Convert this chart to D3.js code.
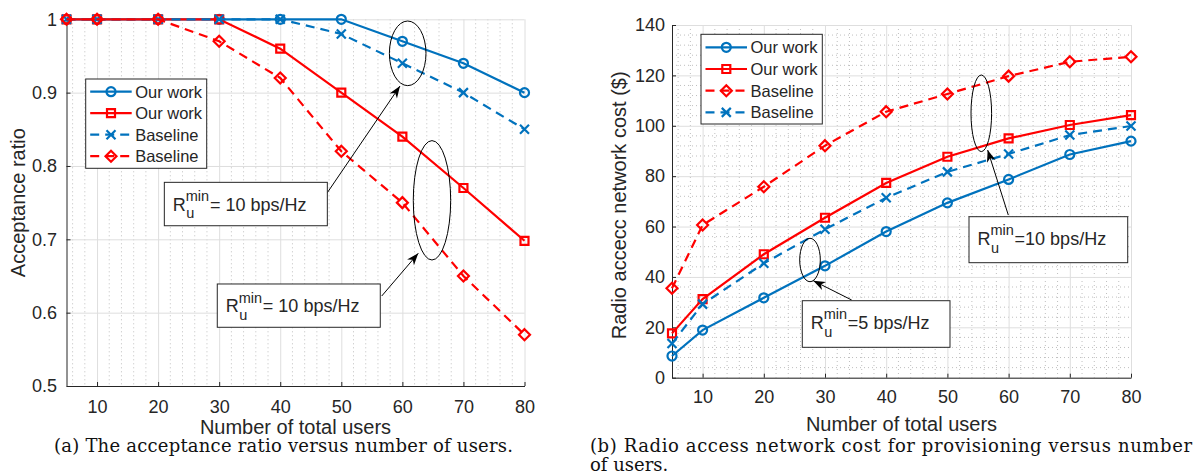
<!DOCTYPE html>
<html>
<head>
<meta charset="utf-8">
<script src="https://cdn.jsdelivr.net/npm/d3@7"></script>
<style>
  body { margin: 0; background: #fff; }
  svg { display: block; }
  text { font-family: "Liberation Sans", Arial, sans-serif; fill: #262626; }
  .cap { font-family: "DejaVu Serif", "Liberation Serif", serif; fill: #111; }
</style>
</head>
<body>
<svg id="fig" width="1202" height="475"></svg>
<script>
// ---- data ----
const users = [5, 10, 20, 30, 40, 50, 60, 70, 80];
const xTicks = [10, 20, 30, 40, 50, 60, 70, 80];

// (a) acceptance ratio
const accOursBlue = [1, 1, 1, 1, 1, 1, 0.97, 0.94, 0.90];
const accOursRed  = [1, 1, 1, 1, 0.96, 0.90, 0.84, 0.77, 0.698];
const accBaseBlue = [1, 1, 1, 1, 1, 0.98, 0.94, 0.90, 0.85];
const accBaseRed  = [1, 1, 1, 0.97, 0.92, 0.82, 0.75, 0.65, 0.57];
const accTicks = [0.5, 0.6, 0.7, 0.8, 0.9, 1];

// (b) radio access network cost
const costOursBlue = [8.6, 18.9, 31.7, 44.4, 58, 69.4, 78.7, 88.6, 93.9];
const costOursRed  = [17.6, 31.2, 49, 63.5, 77.3, 87.7, 95, 100.3, 104.2];
const costBaseRed  = [35.5, 60.6, 75.8, 92.1, 105.6, 112.6, 119.7, 125.4, 127.4];
const costBaseBlue = [13.6, 29.2, 45.4, 58.9, 71.4, 81.7, 88.8, 96.3, 99.9];
const costTicks = [0, 20, 40, 60, 80, 100, 120, 140];

const BLUE = "#0072BD", RED = "#FF0000";

const svg = d3.select("#fig");

svg.append("defs").append("marker")
    .attr("id", "ah")
    .attr("markerUnits", "userSpaceOnUse")
    .attr("viewBox", "-13 -5 14 10")
    .attr("markerWidth", 14).attr("markerHeight", 10)
    .attr("refX", 0).attr("refY", 0)
    .attr("orient", "auto")
  .append("path")
    .attr("d", "M0,0L-12,-4.5L-8.5,0L-12,4.5Z")
    .attr("fill", "#000");

function markerPath(type) {
  if (type === "circle") return d3.symbol(d3.symbolCircle, 64)();
  if (type === "square") return "M-4,-4h8v8h-8Z";
  if (type === "diamond") return "M0,-5.5L5.5,0L0,5.5L-5.5,0Z";
  return "M-4.5,-4.5L4.5,4.5M-4.5,4.5L4.5,-4.5";
}

function rLabel(g, x, y, rest) {
  let r = g.append("text").attr("x", x).attr("y", y).style("font-size", "18px").text("R");
  let w = r.node().getComputedTextLength();
  let sup = g.append("text").attr("x", x + w).attr("y", y - 9.7).style("font-size", "14.5px").text("min");
  g.append("text").attr("x", x + w + 0.5).attr("y", y + 7.6).style("font-size", "14.5px").text("u");
  let mw = sup.node().getComputedTextLength();
  g.append("text").attr("x", x + w + mw + 0.8).attr("y", y).style("font-size", "18px").text(rest);
}

function panel(cfg) {
  const x = d3.scaleLinear().domain([5, 80]).range([cfg.left, cfg.right]);
  const y = d3.scaleLinear().domain(cfg.yDomain).range([cfg.bottom, cfg.top]);
  const g = svg.append("g");
  const h = cfg.bottom - cfg.top, w = cfg.right - cfg.left;

  // minor grid
  g.append("g").selectAll("line")
    .data(d3.range(6, 80, 2).filter(v => v % 10 !== 0))
    .join("line")
      .attr("x1", d => x(d)).attr("x2", d => x(d))
      .attr("y1", cfg.top).attr("y2", cfg.bottom)
      .attr("stroke", "#bfbfbf").attr("stroke-width", 1)
      .attr("stroke-dasharray", "1,3");
  if (cfg.yMinor) {
    g.append("g").selectAll("line")
      .data(cfg.yMinor)
      .join("line")
        .attr("x1", cfg.left).attr("x2", cfg.right)
        .attr("y1", d => y(d)).attr("y2", d => y(d))
        .attr("stroke", "#bfbfbf").attr("stroke-width", 1)
        .attr("stroke-dasharray", "1,3");
  }
  // major grid
  g.append("g").attr("transform", `translate(0,${cfg.bottom})`)
    .call(d3.axisBottom(x).tickValues(xTicks).tickSize(-h).tickFormat(""))
    .call(a => a.select(".domain").remove())
    .call(a => a.selectAll("line").attr("stroke", "#dedede"));
  g.append("g").attr("transform", `translate(${cfg.left},0)`)
    .call(d3.axisLeft(y).tickValues(cfg.yTicks).tickSize(-w).tickFormat(""))
    .call(a => a.select(".domain").remove())
    .call(a => a.selectAll("line").attr("stroke", "#dedede"));

  // axes
  const xa = g.append("g").attr("transform", `translate(0,${cfg.bottom})`)
    .call(d3.axisBottom(x).tickValues(xTicks).tickSizeInner(-4).tickSizeOuter(0).tickPadding(cfg.xPad));
  const ya = g.append("g").attr("transform", `translate(${cfg.left},0)`)
    .call(d3.axisLeft(y).tickValues(cfg.yTicks).tickSizeInner(-4).tickSizeOuter(0)
      .tickPadding(cfg.yPad).tickFormat(d3.format("~g")));
  [xa, ya].forEach(a => {
    a.select(".domain").attr("stroke", "#262626");
    a.selectAll(".tick line").attr("stroke", "#262626");
    a.selectAll("text").style("font-size", "18px").attr("fill", "#262626")
      .style("font-family", '"Liberation Sans", Arial, sans-serif');
  });

  // titles
  g.append("text").attr("x", (cfg.left + cfg.right) / 2).attr("y", cfg.xTitleY)
    .attr("text-anchor", "middle").style("font-size", "20px").text("Number of total users");
  g.append("text")
    .attr("transform", `translate(${cfg.yTitleX},${(cfg.top + cfg.bottom) / 2 + cfg.yTitleShift}) rotate(-90)`)
    .attr("text-anchor", "middle").style("font-size", "20px").text(cfg.yTitle);

  // series
  const line = d3.line().x((d, i) => x(users[i])).y(d => y(d));
  cfg.series.forEach(s => {
    g.append("path").attr("d", line(s.values))
      .attr("fill", "none").attr("stroke", s.color).attr("stroke-width", 2.2)
      .attr("stroke-dasharray", s.dash ? "9,6" : null);
    g.append("g").selectAll("path")
      .data(s.values)
      .join("path")
        .attr("transform", (d, i) => `translate(${x(users[i])},${y(d)})`)
        .attr("d", markerPath(s.marker))
        .attr("fill", "none").attr("stroke", s.color).attr("stroke-width", 2.2);
  });

  // legend
  const L = cfg.legend;
  const lg = g.append("g");
  lg.append("rect").attr("x", L.x).attr("y", L.y).attr("width", L.w).attr("height", L.h)
    .attr("fill", "#fff").attr("stroke", "#262626").attr("stroke-width", 1);
  cfg.series.forEach((s, i) => {
    const cy = L.y + L.first + i * L.step;
    lg.append("line").attr("x1", L.x + 4.5).attr("x2", L.x + 46).attr("y1", cy).attr("y2", cy)
      .attr("stroke", s.color).attr("stroke-width", 2.2)
      .attr("stroke-dasharray", s.dash ? "9,6" : null);
    lg.append("path").attr("transform", `translate(${L.x + 25.3},${cy})`)
      .attr("d", markerPath(s.marker))
      .attr("fill", "none").attr("stroke", s.color).attr("stroke-width", 2.2);
    lg.append("text").attr("x", L.x + 49.5).attr("y", cy + 6).style("font-size", "16.5px").text(s.name);
  });

  // annotations
  const an = g.append("g");
  cfg.ellipses.forEach(e => {
    an.append("ellipse").attr("cx", x(e.x)).attr("cy", y(e.y)).attr("rx", e.rx).attr("ry", e.ry)
      .attr("fill", "none").attr("stroke", "#000").attr("stroke-width", 1);
  });
  cfg.arrows.forEach(a => {
    an.append("line").attr("x1", x(a.x1)).attr("y1", y(a.y1)).attr("x2", x(a.x2)).attr("y2", y(a.y2))
      .attr("stroke", "#000").attr("stroke-width", 1).attr("marker-end", "url(#ah)");
  });
  cfg.boxes.forEach(b => {
    an.append("rect").attr("x", x(b.x)).attr("y", y(b.y)).attr("width", b.w).attr("height", b.h)
      .attr("fill", "#fff").attr("stroke", "#262626").attr("stroke-width", 1);
    rLabel(an, x(b.x) + 8.4, y(b.y) + 28.4, b.text);
  });
}

panel({
  left: 66.5, right: 524.5, top: 19.3, bottom: 386,
  yDomain: [0.5, 1], yTicks: accTicks, yMinor: null,
  xPad: 14, yPad: 9.5, xTitleY: 434, yTitleX: 25, yTitleShift: 0,
  yTitle: "Acceptance ratio",
  series: [
    { name: "Our work", values: accOursBlue, color: BLUE, marker: "circle", dash: false },
    { name: "Our work", values: accOursRed, color: RED, marker: "square", dash: false },
    { name: "Baseline", values: accBaseBlue, color: BLUE, marker: "x", dash: true },
    { name: "Baseline", values: accBaseRed, color: RED, marker: "diamond", dash: true }
  ],
  legend: { x: 85.7, y: 79, w: 121, h: 89.3, first: 12.7, step: 21.5 },
  ellipses: [ { x: 60.87, y: 0.9536, rx: 18.3, ry: 32.3 }, { x: 64.85, y: 0.7532, rx: 18.7, ry: 59.7 } ],
  arrows: [ { x1: 47.71, y1: 0.7636, x2: 59.61, y2: 0.909 }, { x1: 56.62, y1: 0.6227, x2: 62.61, y2: 0.681 } ],
  boxes: [ { x: 21.02, y: 0.7777, w: 163, h: 43.4, text: "= 10 bps/Hz" },
           { x: 29.69, y: 0.6391, w: 163, h: 43.3, text: "= 10 bps/Hz" } ]
});

panel({
  left: 672, right: 1131, top: 25, bottom: 377.7,
  yDomain: [0, 140], yTicks: costTicks,
  yMinor: d3.range(4, 140, 4).filter(v => v % 20 !== 0),
  xPad: 13, yPad: 7, xTitleY: 431, yTitleX: 626, yTitleShift: 4,
  yTitle: "Radio accecc network cost ($)",
  series: [
    { name: "Our work", values: costOursBlue, color: BLUE, marker: "circle", dash: false },
    { name: "Our work", values: costOursRed, color: RED, marker: "square", dash: false },
    { name: "Baseline", values: costBaseRed, color: RED, marker: "diamond", dash: true },
    { name: "Baseline", values: costBaseBlue, color: BLUE, marker: "x", dash: true }
  ],
  legend: { x: 701, y: 34.3, w: 121.3, h: 89.7, first: 13, step: 21.7 },
  ellipses: [ { x: 55.54, y: 104.95, rx: 10.3, ry: 38.3 }, { x: 27.55, y: 46.72, rx: 10.3, ry: 21.7 } ],
  arrows: [ { x1: 59.95, y1: 64.58, x2: 56.58, y2: 90.38 }, { x1: 34.36, y1: 30.84, x2: 28.09, y2: 38.5 } ],
  boxes: [ { x: 53.53, y: 63.91, w: 158.7, h: 46, text: "=10 bps/Hz" },
           { x: 26.29, y: 30.56, w: 147.7, h: 46.6, text: "=5 bps/Hz" } ]
});

// captions
svg.append("text").attr("class", "cap").attr("x", 54).attr("y", 452)
  .attr("textLength", 459).attr("lengthAdjust", "spacing").style("font-size", "18px")
  .text("(a) The acceptance ratio versus number of users.");
svg.append("text").attr("class", "cap").attr("x", 590).attr("y", 452)
  .attr("textLength", 602).attr("lengthAdjust", "spacing").style("font-size", "18px")
  .text("(b) Radio access network cost for provisioning versus number");
svg.append("text").attr("class", "cap").attr("x", 590).attr("y", 471)
  .style("font-size", "18px").text("of users.");
</script>
</body>
</html>
